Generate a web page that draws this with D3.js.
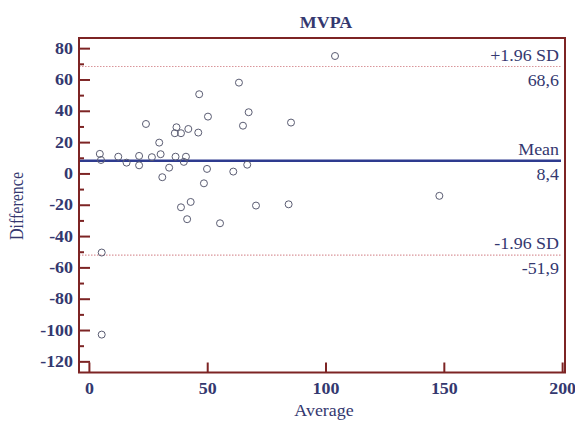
<!DOCTYPE html>
<html>
<head>
<meta charset="utf-8">
<script src="https://cdn.jsdelivr.net/npm/d3@7"></script>
<style>
  body { margin: 0; background: #fff; }
  #chart text { font-family: "Liberation Serif", "Times New Roman", "DejaVu Serif", serif; fill: #34386f; }
</style>
</head>
<body>
<svg id="chart" width="575" height="421"></svg>
<script>
// Bland-Altman points: average vs difference
const averages = [4.4, 4.9, 12.2, 15.7, 21, 21, 23.9, 26.4, 29.5, 30.1, 30.8, 33.7,
  36.1, 36.8, 38.7, 36.4, 39.9, 40.8, 41.8, 46.4, 46, 50.1, 49.7, 48.4, 38.7, 42.8,
  41.3, 60.8, 63.2, 64.9, 67.3, 66.7, 70.4, 84.2, 85.2, 55.2, 5.2, 5.2, 103.8, 147.9]
const differences = [12.8, 8.9, 11, 7.2, 11.5, 5.5, 31.9, 10.7, 20, 12.6, -2.1, 4,
  26, 29.8, 26, 11, 7.7, 11, 28.7, 50.9, 26.4, 36.6, 3.2, -6, -21.3, -17.9,
  -28.9, 1.5, 58.3, 30.8, 39.4, 5.9, -20.2, -19.4, 32.8, -31.5, -50.2, -102.6, 75.3, -14]

const xTicks = [0, 50, 100, 150, 200]
const yTicks = [80, 60, 40, 20, 0, -20, -40, -60, -80, -100, -120]

const refLines = [
  { value: 68.6, top: "+1.96 SD", bottom: "68,6", kind: "sd" },
  { value: 8.4, top: "Mean", bottom: "8,4", kind: "mean" },
  { value: -51.9, top: "-1.96 SD", bottom: "-51,9", kind: "sd" }
]

const svg = d3.select("#chart")
const frame = { left: 79, right: 565, top: 38, bottom: 372.5 }
const axisColor = "#7d2424"
// the source picture is a little stretched sideways, so text is widened a bit
const stretch = 1.12

const x = d3.scaleLinear().domain([-4.4, 201]).range([frame.left, frame.right])
const y = d3.scaleLinear().domain([-126.8, 86.8]).range([frame.bottom, frame.top])

function label(g, tx, ty, str, size, anchor, bold) {
  return g.append("text")
    .attr("transform", `translate(${tx},${ty}) scale(${stretch},1)`)
    .attr("text-anchor", anchor)
    .attr("font-size", size)
    .attr("font-weight", bold ? "bold" : null)
    .text(str)
}

// reference lines
const refs = svg.append("g")
refLines.forEach(r => {
  refs.append("line")
    .attr("x1", frame.left).attr("x2", frame.right - 4)
    .attr("y1", y(r.value)).attr("y2", y(r.value))
    .attr("stroke", r.kind === "mean" ? "#2e3b8f" : "#d9959a")
    .attr("stroke-width", r.kind === "mean" ? 2.6 : 1.2)
    .attr("stroke-dasharray", r.kind === "mean" ? null : "1.5,1.5")
  label(refs, 559, y(r.value) - 6, r.top, 16, "end", false)
  label(refs, 559, y(r.value) + 19, r.bottom, 16, "end", false)
})

// points
svg.append("g").selectAll("circle")
  .data(averages.map((a, i) => ({ a, d: differences[i] })))
  .enter()
  .append("circle")
  .attr("cx", d => x(d.a))
  .attr("cy", d => y(d.d))
  .attr("r", 3.5)
  .attr("fill", "none")
  .attr("stroke", "#5a5c72")
  .attr("stroke-width", 1)

// y axis ticks (inward), minor every 10
const yAxis = svg.append("g")
d3.range(-120, 81, 10).forEach(v => {
  const major = v % 20 === 0
  yAxis.append("line")
    .attr("x1", frame.left).attr("x2", frame.left + (major ? 11 : 5))
    .attr("y1", y(v)).attr("y2", y(v))
    .attr("stroke", axisColor).attr("stroke-width", 2)
})
yTicks.forEach(t => label(yAxis, frame.left - 6, y(t) + 5, t, 16, "end", true))

// x axis ticks (inward)
const xAxis = svg.append("g")
xAxis.selectAll("line")
  .data(xTicks)
  .enter()
  .append("line")
  .attr("x1", d => x(d)).attr("x2", d => x(d))
  .attr("y1", frame.bottom).attr("y2", frame.bottom - 10)
  .attr("stroke", axisColor).attr("stroke-width", 2)
xTicks.forEach(t => label(xAxis, x(t), 394, t, 16, "middle", true))

// frame
svg.append("rect")
  .attr("x", frame.left).attr("y", frame.top)
  .attr("width", frame.right - frame.left)
  .attr("height", frame.bottom - frame.top)
  .attr("fill", "none")
  .attr("stroke", axisColor)
  .attr("stroke-width", 2)

// titles
label(svg, 326, 28, "MVPA", 16, "middle", true)
label(svg, 324, 416, "Average", 16, "middle", false)
svg.append("text")
  .attr("transform", "translate(23, 206) rotate(-90) scale(1,1.12)")
  .attr("text-anchor", "middle")
  .attr("font-size", 16)
  .text("Difference")
</script>
</body>
</html>
